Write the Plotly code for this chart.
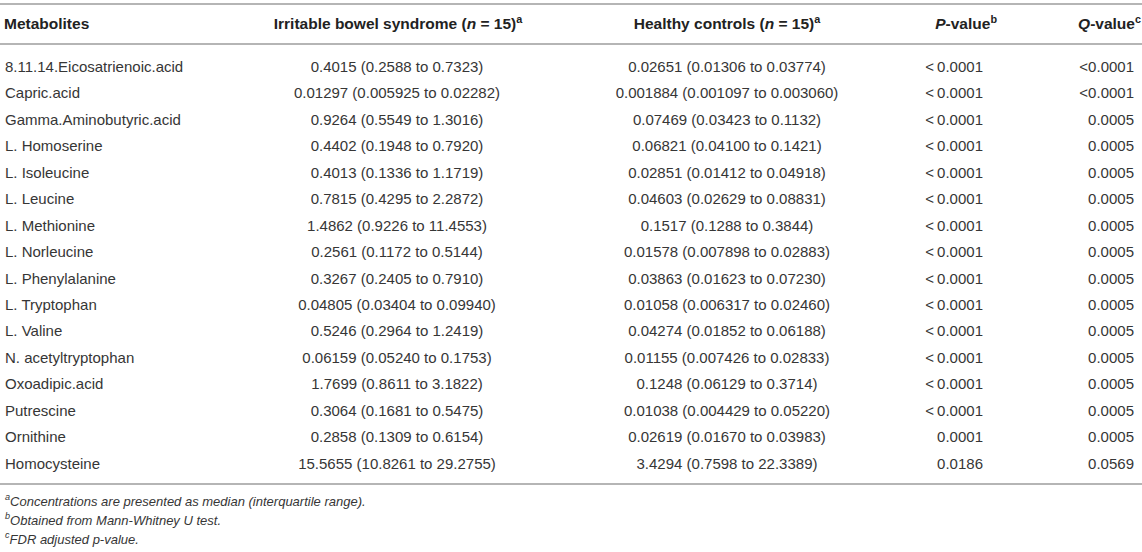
import plotly.graph_objects as go

# table content
metabolites = [
    "8.11.14.Eicosatrienoic.acid", "Capric.acid", "Gamma.Aminobutyric.acid",
    "L. Homoserine", "L. Isoleucine", "L. Leucine", "L. Methionine",
    "L. Norleucine", "L. Phenylalanine", "L. Tryptophan", "L. Valine",
    "N. acetyltryptophan", "Oxoadipic.acid", "Putrescine", "Ornithine",
    "Homocysteine",
]
ibs = [
    "0.4015 (0.2588 to 0.7323)", "0.01297 (0.005925 to 0.02282)",
    "0.9264 (0.5549 to 1.3016)", "0.4402 (0.1948 to 0.7920)",
    "0.4013 (0.1336 to 1.1719)", "0.7815 (0.4295 to 2.2872)",
    "1.4862 (0.9226 to 11.4553)", "0.2561 (0.1172 to 0.5144)",
    "0.3267 (0.2405 to 0.7910)", "0.04805 (0.03404 to 0.09940)",
    "0.5246 (0.2964 to 1.2419)", "0.06159 (0.05240 to 0.1753)",
    "1.7699 (0.8611 to 3.1822)", "0.3064 (0.1681 to 0.5475)",
    "0.2858 (0.1309 to 0.6154)", "15.5655 (10.8261 to 29.2755)",
]
controls = [
    "0.02651 (0.01306 to 0.03774)", "0.001884 (0.001097 to 0.003060)",
    "0.07469 (0.03423 to 0.1132)", "0.06821 (0.04100 to 0.1421)",
    "0.02851 (0.01412 to 0.04918)", "0.04603 (0.02629 to 0.08831)",
    "0.1517 (0.1288 to 0.3844)", "0.01578 (0.007898 to 0.02883)",
    "0.03863 (0.01623 to 0.07230)", "0.01058 (0.006317 to 0.02460)",
    "0.04274 (0.01852 to 0.06188)", "0.01155 (0.007426 to 0.02833)",
    "0.1248 (0.06129 to 0.3714)", "0.01038 (0.004429 to 0.05220)",
    "0.02619 (0.01670 to 0.03983)", "3.4294 (0.7598 to 22.3389)",
]
p_values = ["<\u20090.0001"] * 14 + ["0.0001", "0.0186"]
q_values = ["<0.0001", "<0.0001"] + ["0.0005"] * 13 + ["0.0569"]

headers = [
    "<b>Metabolites</b>",
    "<b>Irritable bowel syndrome (<i>n</i> = 15)<sup>a</sup></b>",
    "<b>Healthy controls (<i>n</i> = 15)<sup>a</sup></b>",
    "<b><i>P</i>-value<sup>b</sup></b>",
    "<b><i>Q</i>-value<sup>c</sup></b>",
]
footnotes = [
    "<i><sup>a</sup>Concentrations are presented as median (interquartile range).</i>",
    "<i><sup>b</sup>Obtained from Mann-Whitney U test.</i>",
    "<i><sup>c</sup>FDR adjusted p-value.</i>",
]

W, H = 1142, 552
row0, step = 68, 26.47
rows_y = [row0 + i * step for i in range(len(metabolites))]
txt = "#363636"
family = "Liberation Sans, Arial, sans-serif"

fig = go.Figure()

# body columns: (values, x, textposition)
cols = [
    (metabolites, 5, "middle right"),
    (ibs, 397, "middle center"),
    (controls, 727, "middle center"),
    (p_values, 983, "middle left"),
    (q_values, 1134, "middle left"),
]
for vals, x, pos in cols:
    fig.add_trace(go.Scatter(
        x=[x] * len(vals), y=rows_y, mode="text", text=vals,
        textposition=pos, textfont=dict(family=family, size=15, color=txt),
        hoverinfo="skip", cliponaxis=False,
    ))

# header row
hx = [4, 398, 727, 997, 1141]
hpos = ["middle right", "middle center", "middle center", "middle left", "middle left"]
fig.add_trace(go.Scatter(
    x=hx, y=[25.5] * 5, mode="text", text=headers, textposition=hpos,
    textfont=dict(family=family, size=15.5, color="#222222"),
    hoverinfo="skip", cliponaxis=False,
))

# footnotes
fig.add_trace(go.Scatter(
    x=[5] * 3, y=[502.5, 521.5, 540.5], mode="text", text=footnotes,
    textposition="middle right",
    textfont=dict(family=family, size=13, color=txt),
    hoverinfo="skip", cliponaxis=False,
))

for yl in [4, 44, 484]:
    fig.add_shape(type="line", x0=0, x1=W, y0=yl, y1=yl, xref="x", yref="y",
                  line=dict(color="#b5b5b5", width=2))

fig.update_layout(
    width=W, height=H, showlegend=False,
    margin=dict(l=0, r=0, t=0, b=0),
    paper_bgcolor="white", plot_bgcolor="white",
    xaxis=dict(range=[0, W], visible=False, fixedrange=True),
    yaxis=dict(range=[H, 0], visible=False, fixedrange=True),
)

fig.write_html("out.html", config={"displayModeBar": False},
               post_script="document.body.style.margin='0';")
